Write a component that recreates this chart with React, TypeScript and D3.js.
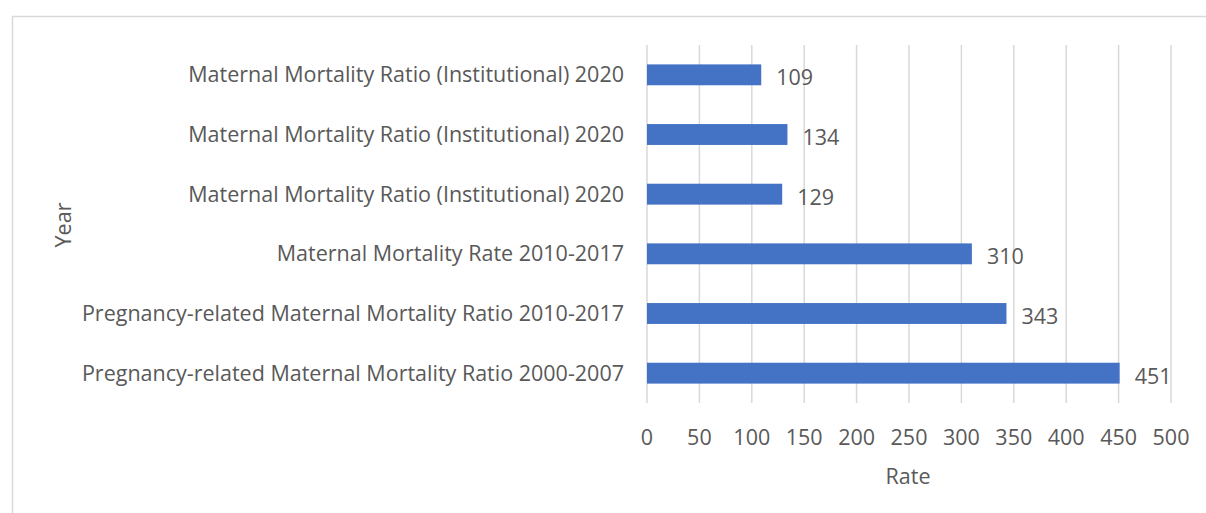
import * as d3 from 'd3';
import { useEffect, useRef } from 'react';

const categories = [
  'Maternal Mortality Ratio (Institutional) 2020',
  'Maternal Mortality Ratio (Institutional) 2020',
  'Maternal Mortality Ratio (Institutional) 2020',
  'Maternal Mortality Rate 2010-2017',
  'Pregnancy-related Maternal Mortality Ratio 2010-2017',
  'Pregnancy-related Maternal Mortality Ratio 2000-2007',
];
const rates = [109, 134, 129, 310, 343, 451];
const xTicks = [0, 50, 100, 150, 200, 250, 300, 350, 400, 450, 500];

const W = 1206;
const H = 513;
const FONT = '"Open Sans", "Noto Sans", sans-serif';
const TEXT = '#595959';
const FS = '21.5px';

export default function App() {
  const ref = useRef<SVGSVGElement>(null);

  useEffect(() => {
    const svg = d3.select(ref.current);
    svg.selectAll('*').remove();

    const margin = { top: 45, right: 35, bottom: 110, left: 647 };
    const innerW = 1171 - margin.left;
    const innerH = 403 - margin.top;

    // chart border
    svg.append('rect')
      .attr('x', 12.5).attr('y', 16.5)
      .attr('width', W + 10).attr('height', H + 10)
      .attr('fill', '#fff')
      .attr('stroke', '#d9d9d9')
      .attr('stroke-width', 1.5);

    const x = d3.scaleLinear().domain([0, 500]).range([0, innerW]);
    const y = d3.scaleBand<number>()
      .domain(d3.range(categories.length))
      .range([0, innerH])
      .paddingInner(0.65)
      .paddingOuter(0.325);

    const g = svg.append('g').attr('transform', `translate(${margin.left},${margin.top})`);

    // gridlines
    g.selectAll('line.grid')
      .data(xTicks)
      .enter()
      .append('line')
      .attr('class', 'grid')
      .attr('x1', d => x(d)).attr('x2', d => x(d))
      .attr('y1', 0).attr('y2', innerH)
      .attr('stroke', '#d9d9d9')
      .attr('stroke-width', 1.5);

    // bars
    g.selectAll('rect.bar')
      .data(rates)
      .enter()
      .append('rect')
      .attr('class', 'bar')
      .attr('x', x(0))
      .attr('y', (d, i) => y(i)!)
      .attr('width', d => x(d))
      .attr('height', y.bandwidth())
      .attr('fill', '#4472c4');

    // value labels
    g.selectAll('text.val')
      .data(rates)
      .enter()
      .append('text')
      .attr('class', 'val')
      .attr('x', d => x(d) + 15)
      .attr('y', (d, i) => y(i)! + y.bandwidth() / 2 + 3)
      .attr('dy', '0.35em')
      .attr('fill', TEXT)
      .style('font-family', FONT)
      .style('font-size', FS)
      .text(d => d);

    // category labels
    g.selectAll('text.cat')
      .data(categories)
      .enter()
      .append('text')
      .attr('class', 'cat')
      .attr('x', -23)
      .attr('y', (d, i) => y(i)! + y.bandwidth() / 2)
      .attr('dy', '0.35em')
      .attr('text-anchor', 'end')
      .attr('fill', TEXT)
      .style('font-family', FONT)
      .style('font-size', FS)
      .text(d => d);

    // x tick labels
    g.selectAll('text.tick')
      .data(xTicks)
      .enter()
      .append('text')
      .attr('class', 'tick')
      .attr('x', d => x(d))
      .attr('y', innerH + 34)
      .attr('dy', '0.35em')
      .attr('text-anchor', 'middle')
      .attr('fill', TEXT)
      .style('font-family', FONT)
      .style('font-size', FS)
      .text(d => d);

    // axis titles
    svg.append('text')
      .attr('x', 908).attr('y', 476)
      .attr('dy', '0.35em')
      .attr('text-anchor', 'middle')
      .attr('fill', TEXT)
      .style('font-family', FONT)
      .style('font-size', FS)
      .text('Rate');

    svg.append('text')
      .attr('transform', 'translate(63,225) rotate(-90)')
      .attr('dy', '0.35em')
      .attr('text-anchor', 'middle')
      .attr('fill', TEXT)
      .style('font-family', FONT)
      .style('font-size', FS)
      .text('Year');

    return () => { svg.selectAll('*').remove(); };
  }, []);

  return (
    <div style={{ position: 'absolute', left: 0, top: 0, width: W, height: H, overflow: 'hidden' }}>
      <svg ref={ref} width={W} height={H} />
    </div>
  );
}
